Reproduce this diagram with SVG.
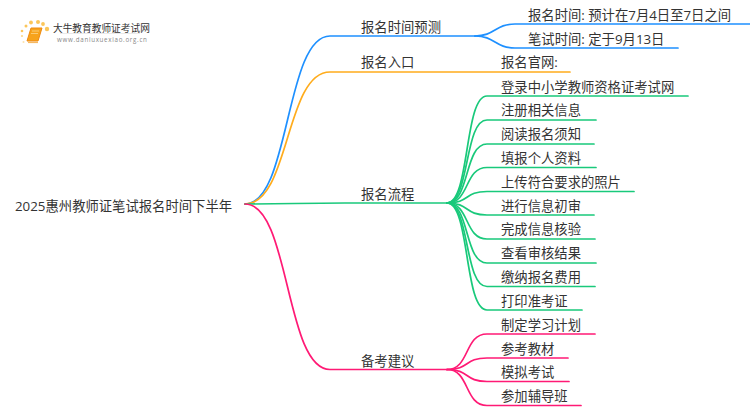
<svg xmlns="http://www.w3.org/2000/svg" width="750" height="410" viewBox="0 0 750 410">
<style>
text{font-family:"Open Sans","Noto Sans CJK SC",sans-serif;font-size:13.33px;fill:#333}
.c{fill:none;stroke-width:1.7;stroke-linecap:round}
.b{stroke:#1e90ff}.o{stroke:#ffac1c}.g{stroke:#19c97b}.p{stroke:#ff1a75}
</style>
<rect width="750" height="410" fill="#fff"/>
<g id="logo">
<g fill="#fbc65a"><circle cx="47" cy="29" r="2.2"/><circle cx="43" cy="24" r="1.9"/><circle cx="38" cy="22" r="2"/><circle cx="31" cy="22.500" r="1.900"/><circle cx="26" cy="26" r="1.500"/><circle cx="22" cy="31" r="1.300"/><circle cx="22" cy="36" r="1.100" opacity=".7"/><circle cx="23.500" cy="42" r="1" opacity=".5"/></g>
<path d="M31 28H42L38 41H27Z" fill="#f7a31c" stroke="#ee8a10" stroke-width="1" stroke-linejoin="round"/>
<path d="M32 31H39M31 33.500H38" stroke="#fbd58a" stroke-width=".8"/>
<path d="M28 42.500H38" stroke="#f6b860" stroke-width="1.200"/>
<path d="M60 33.500H140" stroke="#e4e4e4" stroke-width=".8"/>
<text id="logo-title" x="53" y="31.500" style="font-size:9.7px">大牛教育教师证考试网</text>
<text id="logo-url" x="57" y="41.500" style="font-size:6.200px;letter-spacing:.7px;fill:#888">www.daniuxuexiao.org.cn</text>
</g>
<g id="connectors">
<path class="c b" d="M245 204C290 204 285 36 330 36H475"/>
<path class="c o" d="M245 204C290 204 285 72 330 72H570"/>
<path class="c g" d="M245 204C290 204 300 203 345 203H447"/>
<path class="c p" d="M245 204C290 204 285 369.500 330 369.500H447"/>
<path class="c b" d="M475 36C495 36 495 24 515 24H750"/>
<path class="c b" d="M475 36C495 36 495 48 515 48H678"/>
<path class="c g" d="M447 203C470 203 464 96 487 96H688"/>
<path class="c g" d="M447 203C470 203 464 120 487 120H596"/>
<path class="c g" d="M447 203C470 203 464 144 487 144H594"/>
<path class="c g" d="M447 203C470 203 464 167.500 487 167.500H596"/>
<path class="c g" d="M447 203C470 203 464 191.500 487 191.500H634"/>
<path class="c g" d="M447 203C470 203 464 215 487 215H594"/>
<path class="c g" d="M447 203C470 203 464 239 487 239H595"/>
<path class="c g" d="M447 203C470 203 464 263 487 263H596"/>
<path class="c g" d="M447 203C470 203 464 286.500 487 286.500H595"/>
<path class="c g" d="M447 203C470 203 464 310 487 310H582"/>
<path class="c p" d="M447 369.500C470 369.500 464 334 487 334H595"/>
<path class="c p" d="M447 369.500C470 369.500 464 358 487 358H568"/>
<path class="c p" d="M447 369.500C470 369.500 464 381.500 487 381.500H569"/>
<path class="c p" d="M447 369.500C470 369.500 464 405.500 487 405.500H581"/>
</g>
<g id="root"><text x="15" y="210.500">2025惠州教师证笔试报名时间下半年</text></g>
<g id="n1"><text x="361" y="32">报名时间预测</text></g>
<g id="n1-1"><text x="528" y="20">报名时间: 预计在7月4日至7日之间</text></g>
<g id="n1-2"><text x="528" y="44">笔试时间: 定于9月13日</text></g>
<g id="n2"><text x="361" y="67">报名入口</text></g>
<g id="n2-1"><text x="501" y="67">报名官网:</text></g>
<g id="n3"><text x="361" y="199">报名流程</text></g>
<g id="n3-1"><text x="501" y="92">登录中小学教师资格证考试网</text></g>
<g id="n3-2"><text x="501" y="115">注册相关信息</text></g>
<g id="n3-3"><text x="501" y="139">阅读报名须知</text></g>
<g id="n3-4"><text x="501" y="163">填报个人资料</text></g>
<g id="n3-5"><text x="501" y="187">上传符合要求的照片</text></g>
<g id="n3-6"><text x="501" y="210.500">进行信息初审</text></g>
<g id="n3-7"><text x="501" y="234">完成信息核验</text></g>
<g id="n3-8"><text x="501" y="258">查看审核结果</text></g>
<g id="n3-9"><text x="501" y="282">缴纳报名费用</text></g>
<g id="n3-10"><text x="501" y="306">打印准考证</text></g>
<g id="n4"><text x="361" y="365.500">备考建议</text></g>
<g id="n4-1"><text x="501" y="330">制定学习计划</text></g>
<g id="n4-2"><text x="501" y="354">参考教材</text></g>
<g id="n4-3"><text x="501" y="377">模拟考试</text></g>
<g id="n4-4"><text x="501" y="401">参加辅导班</text></g>
</svg>
